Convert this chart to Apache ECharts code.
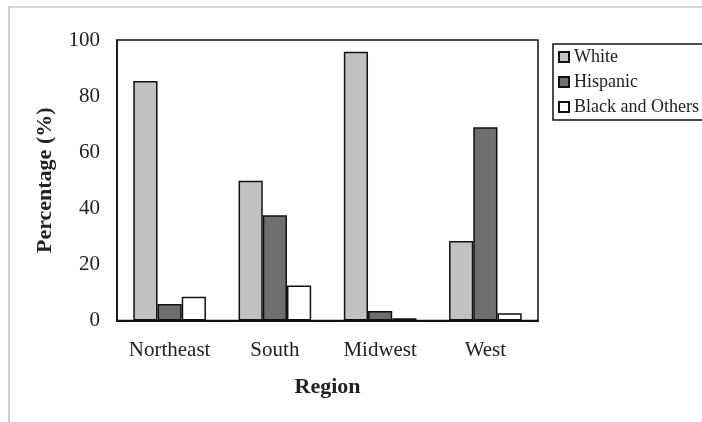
<!DOCTYPE html>
<html>
<head>
<meta charset="utf-8">
<script src="https://cdn.jsdelivr.net/npm/echarts@6/dist/echarts.min.js"></script>
<style>html,body{margin:0;padding:0;background:#fff}#c{width:702px;height:422px}</style>
</head>
<body>
<div id="c"></div>
<script>
var regions = ['Northeast', 'South', 'Midwest', 'West'];
var white = [85.4, 49.8, 95.8, 28.3];
var hispanic = [5.9, 37.5, 3.4, 68.9];
var blackOthers = [8.5, 12.5, 0.8, 2.6];
var yTicks = [0, 20, 40, 60, 80, 100];

var FONT = '"Liberation Serif", "Times New Roman", serif';
var chart = echarts.init(document.getElementById('c'), null, {renderer: 'canvas'});
function barSeries(name, data, color) {
  return {
    name: name, type: 'bar', data: data,
    barGap: '0%', barCategoryGap: '31%',
    itemStyle: {color: color, borderColor: '#111', borderWidth: 1.5},
    emphasis: {disabled: true}
  };
}
chart.setOption({
  animation: false,
  backgroundColor: '#fff',
  textStyle: {fontFamily: FONT},
  graphic: [{
    type: 'rect', shape: {x: 9, y: 7, width: 720, height: 440},
    style: {fill: 'none', stroke: '#b0b0b0', lineWidth: 1.2}, silent: true
  }],
  grid: {left: 117, right: 164, top: 40, bottom: 101.5, show: true, borderColor: '#111', borderWidth: 1.5, backgroundColor: 'transparent'},
  legend: {
    orient: 'vertical', left: 553, top: 44,
    padding: [4, 20, 4, 5],
    icon: 'rect',
    itemWidth: 10, itemHeight: 10, itemGap: 7,
    borderColor: '#111', borderWidth: 1.5,
    textStyle: {fontFamily: FONT, fontSize: 18, color: '#222', padding: [0, 0, 0, 0]},
    data: ['White', 'Hispanic', 'Black and Others']
  },
  xAxis: {
    type: 'category', data: regions,
    name: 'Region', nameLocation: 'middle', nameGap: 56,
    nameTextStyle: {fontFamily: FONT, fontSize: 22, fontWeight: 'bold', color: '#222'},
    axisLine: {lineStyle: {color: '#111', width: 2}},
    axisTick: {show: false},
    axisLabel: {interval: 0, fontFamily: FONT, fontSize: 21, color: '#222', margin: 19}
  },
  yAxis: {
    type: 'value', min: 0, max: 100, interval: 20,
    name: 'Percentage (%)', nameLocation: 'middle', nameGap: 61,
    nameTextStyle: {fontFamily: FONT, fontSize: 22, fontWeight: 'bold', color: '#222'},
    axisLine: {show: true, lineStyle: {color: '#111', width: 1.5}},
    axisTick: {show: false},
    splitLine: {show: false},
    axisLabel: {fontFamily: FONT, fontSize: 21, color: '#222', margin: 17,
      formatter: function (v) { return yTicks.indexOf(v) >= 0 ? String(v) : ''; }}
  },
  series: [
    barSeries('White', white, '#c2c2c2'),
    barSeries('Hispanic', hispanic, '#6f6f6f'),
    barSeries('Black and Others', blackOthers, '#ffffff')
  ]
});
</script>
</body>
</html>
